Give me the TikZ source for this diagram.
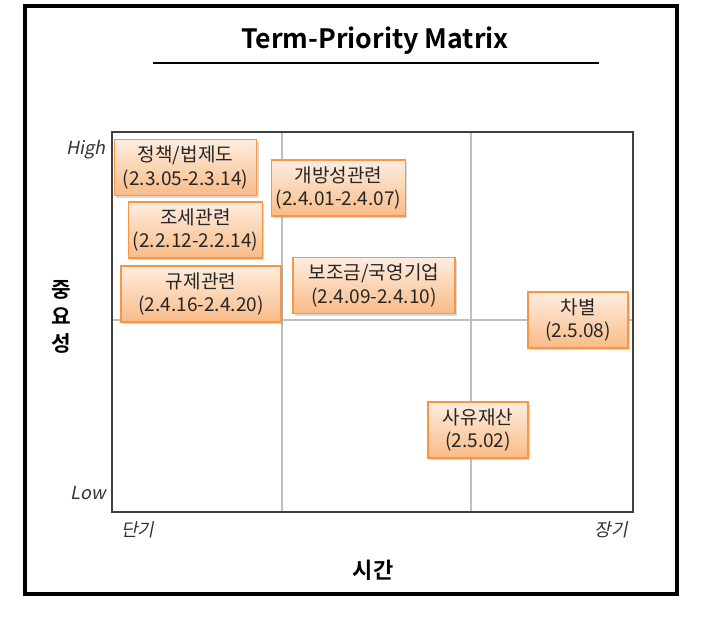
\documentclass[tikz,border=0pt]{standalone}
\usepackage{fontspec}
\setmainfont{Noto Sans CJK KR}[BoldFont={Noto Sans CJK KR Bold}]
\newfontfamily\cjkslant[FakeSlant=0.2]{Noto Sans CJK KR}
\usepackage{xcolor}
\usetikzlibrary{shadows}
\definecolor{boxline}{HTML}{F79646}
\definecolor{boxtop}{HTML}{FDEDE0}
\definecolor{boxbot}{HTML}{FABB86}
\definecolor{gridgray}{HTML}{BFBFBF}
\definecolor{framegray}{HTML}{404040}

\tikzset{
  item/.style={draw=boxline, line width=0.8pt, top color=boxtop, bottom color=boxbot,
    align=center, inner sep=1pt, minimum height=42pt, text=black!85,
    font=\fontsize{14.3}{17.5}\selectfont,
    drop shadow={shadow xshift=1.5pt, shadow yshift=-1.5pt, opacity=0.3}},
  tick/.style={font=\cjkslant\fontsize{13.5}{15}\selectfont, text=black!80, inner sep=0pt}
}

\begin{document}
\begin{tikzpicture}[x=0.75pt,y=-0.75pt]
\useasboundingbox (0,0) rectangle (707,629);
% outer frame and title
\draw[line width=2.5pt] (25,6) rectangle (677,594);
\node[font=\bfseries\fontsize{20}{24}\selectfont] (title) at (375,41) {Term-Priority Matrix};
\draw[line width=1pt] (153,63) -- (599,63);
% grid: 3 time columns, 2 priority rows
\draw[gridgray, line width=0.8pt] (282,132) -- (282,512);
\draw[gridgray, line width=0.8pt] (471,132) -- (471,512);
\draw[gridgray, line width=0.8pt] (112,320) -- (633,320);
\draw[framegray, line width=1.4pt] (112,132) rectangle (633,512);
% axis labels
\node[tick, anchor=east] (high) at (106,150) {High};
\node[tick, anchor=east] (low) at (106,493) {Low};
\node[tick, anchor=west] (short) at (121,530) {단기};
\node[tick, anchor=east] (long) at (628,530) {장기};
\node[font=\bfseries\fontsize{16.5}{20}\selectfont] (time) at (373,570) {시간};
\node[font=\bfseries\fontsize{16}{20}\selectfont, align=center] (prio) at (61,317) {중\\요\\성};
% issue boxes
\node[item, minimum width=107pt] (policy) at (185.5,167.5) {정책/법제도\\(2.3.05-2.3.14)};
\node[item, minimum width=100pt] (open) at (338.5,188) {개방성관련\\(2.4.01-2.4.07)};
\node[item, minimum width=100pt] (tax) at (195.5,230) {조세관련\\(2.2.12-2.2.14)};
\node[item, minimum width=120pt] (regul) at (201,294) {규제관련\\(2.4.16-2.4.20)};
\node[item, minimum width=121.5pt] (subsidy) at (374,285.5) {보조금/국영기업\\(2.4.09-2.4.10)};
\node[item, minimum width=75pt] (discr) at (578,320) {차별\\(2.5.08)};
\node[item, minimum width=75pt] (prop) at (478,430) {사유재산\\(2.5.02)};
\end{tikzpicture}
\end{document}
